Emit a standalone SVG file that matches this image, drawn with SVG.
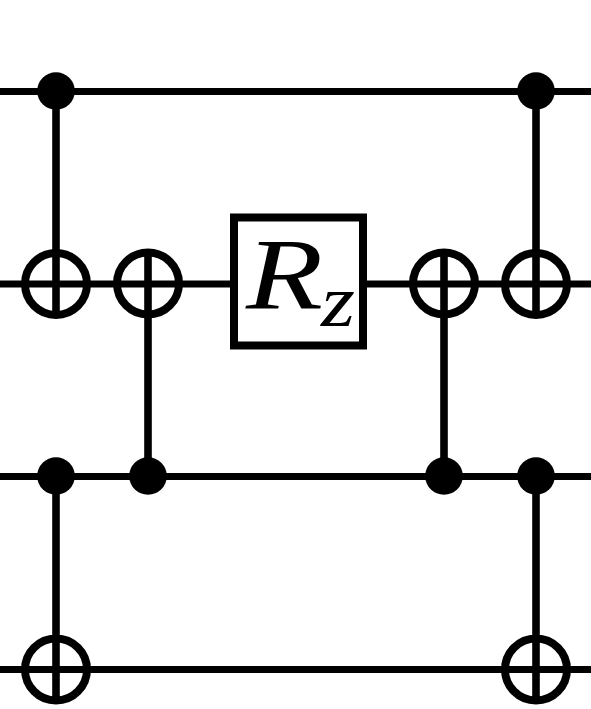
<svg xmlns="http://www.w3.org/2000/svg" width="591" height="709" viewBox="0 0 591 709">
<style>
.w{stroke:#000;stroke-width:6.800;fill:none}
.v{stroke:#000;stroke-width:7.600;fill:none}
.o{stroke:#000;stroke-width:8;fill:none}
.d{fill:#000}
.t{font-family:"Liberation Serif",serif;font-style:italic;fill:#000}
</style>
<rect width="591" height="709" fill="#fff"/>
<g id="connectors">
<path class="w" d="M0 91.500H591M0 284H591M0 476.500H591M0 669.500H591"/>
<path class="v" d="M56 91V318M148 250V476M444 250V476M536 91V318M56 476V703M536 476V703"/>
</g>
<g id="c1"><circle class="d" cx="56" cy="91" r="18.800"/></g>
<g id="c2"><circle class="d" cx="536" cy="91" r="18.800"/></g>
<g id="t1"><circle class="o" cx="56" cy="284" r="31"/></g>
<g id="t2"><circle class="o" cx="148" cy="283.500" r="31"/></g>
<g id="t3"><circle class="o" cx="444" cy="283.500" r="31"/></g>
<g id="t4"><circle class="o" cx="536" cy="284" r="31"/></g>
<g id="c3"><circle class="d" cx="56" cy="476" r="18.800"/></g>
<g id="c4"><circle class="d" cx="148" cy="476" r="18.800"/></g>
<g id="c5"><circle class="d" cx="444" cy="476" r="18.800"/></g>
<g id="c6"><circle class="d" cx="536" cy="476" r="18.800"/></g>
<g id="t5"><circle class="o" cx="56" cy="669.500" r="31"/></g>
<g id="t6"><circle class="o" cx="536" cy="669.500" r="31"/></g>
<g id="rz">
<rect x="234" y="217.500" width="129" height="128" fill="#fff" stroke="#000" stroke-width="8"/>
<text class="t" x="246" y="309" font-size="102" textLength="77" lengthAdjust="spacingAndGlyphs">R</text>
<text class="t" x="321" y="326" font-size="73" textLength="34" lengthAdjust="spacingAndGlyphs">z</text>
</g>
</svg>
